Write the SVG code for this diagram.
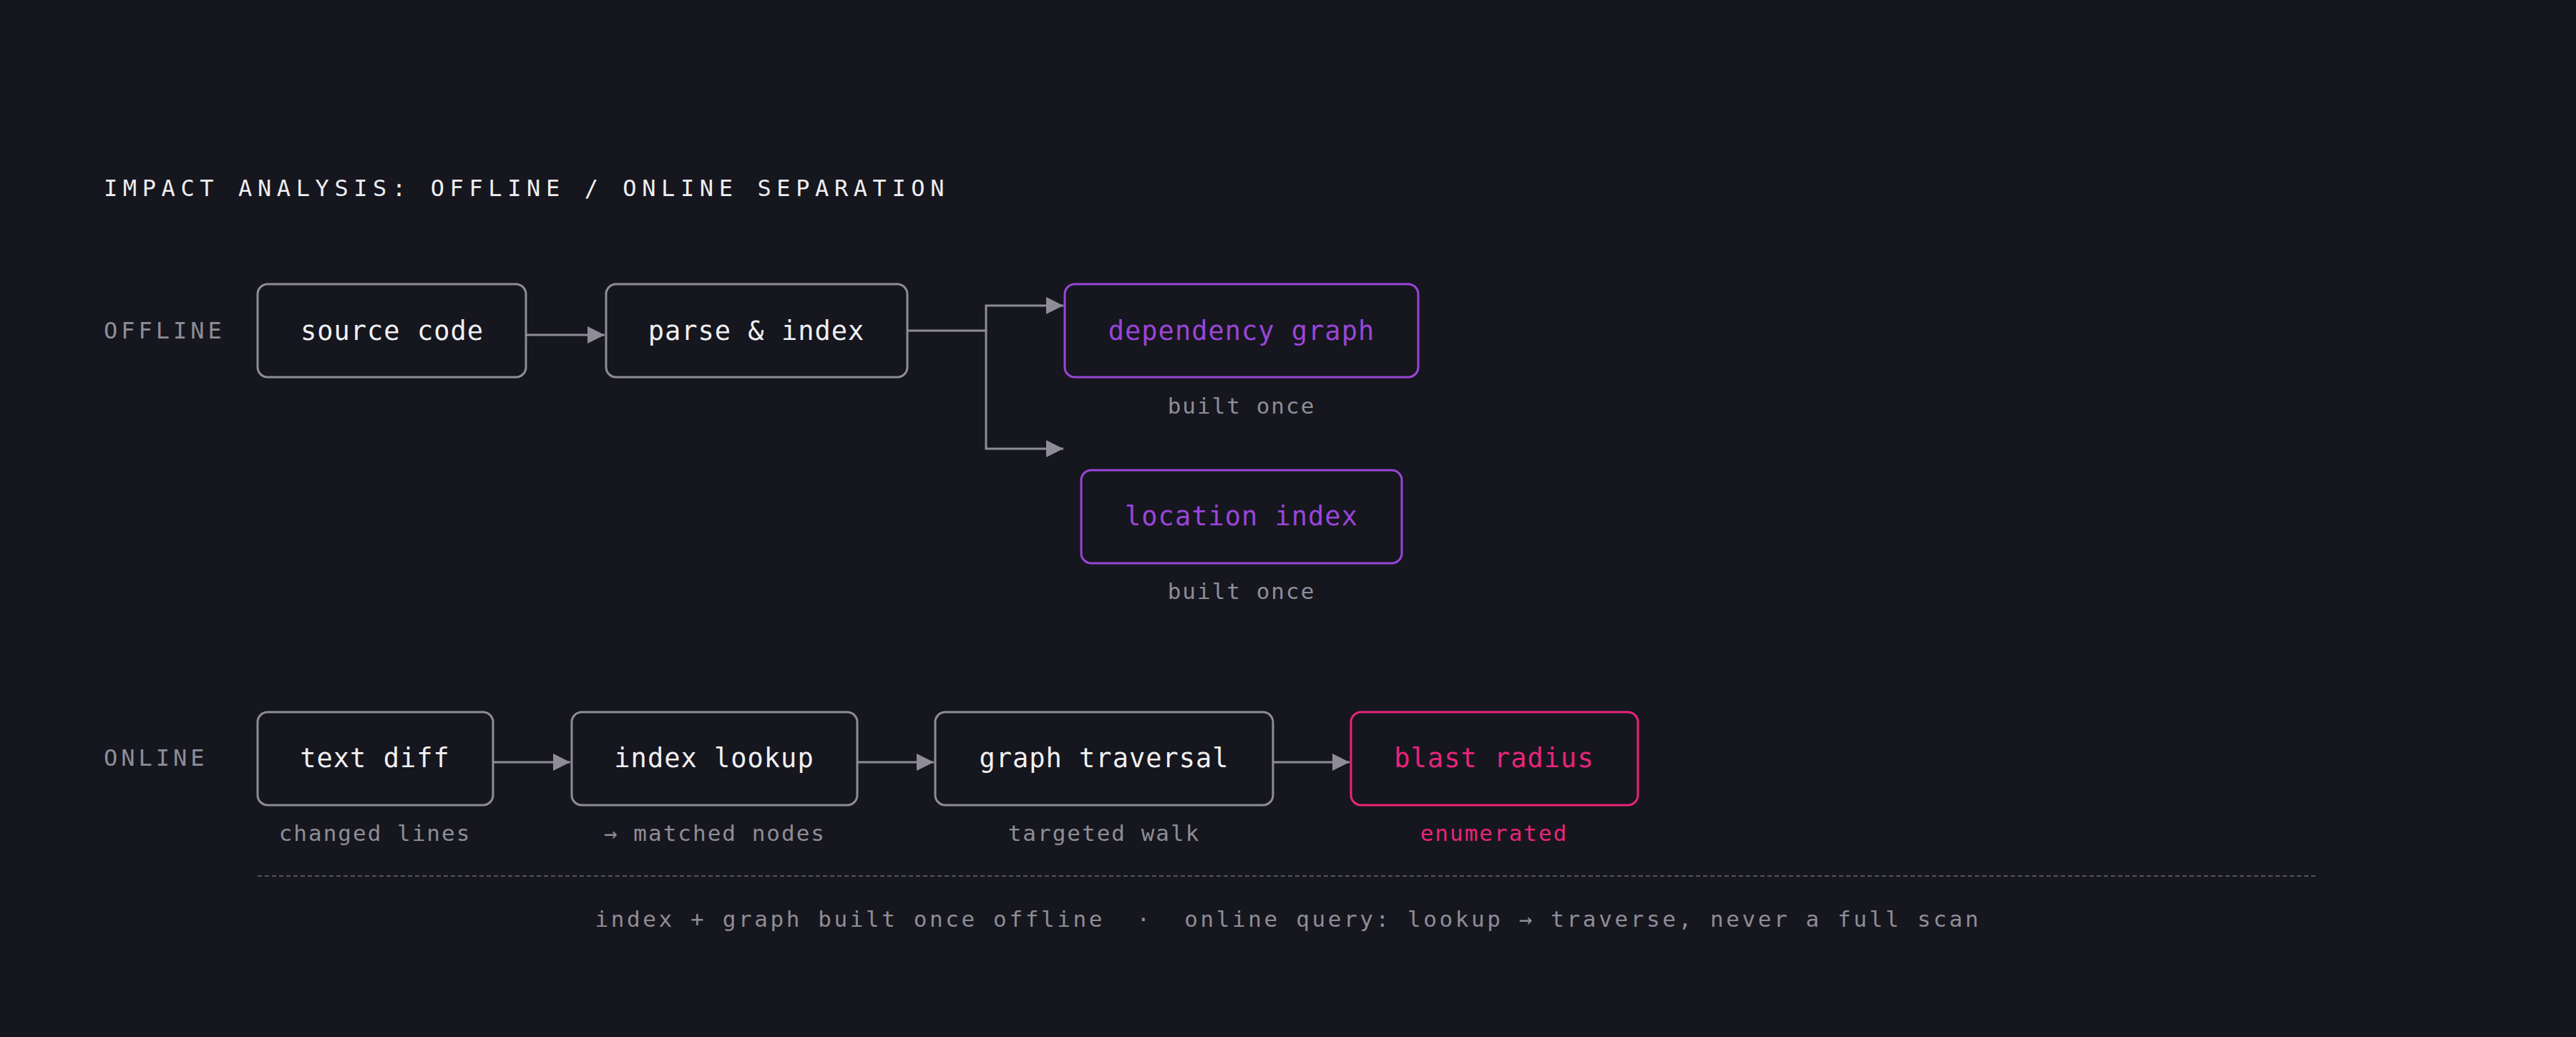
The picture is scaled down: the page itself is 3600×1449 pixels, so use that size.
<svg xmlns="http://www.w3.org/2000/svg" width="3600" height="1449" viewBox="0 0 3600 1449">
<style>
text{font-family:"DejaVu Sans Mono","Liberation Mono",monospace}
.box{fill:#16161e;stroke:#8e8d97;stroke-width:3}
.pur{fill:#16161e;stroke:#9a45d8;stroke-width:3}
.pink{fill:#16161e;stroke:#e8257b;stroke-width:3}
.nt{font-size:37px;fill:#f0f0f2;text-anchor:middle;letter-spacing:1px;dominant-baseline:central}
.ntp{font-size:37px;fill:#9a45d8;text-anchor:middle;letter-spacing:1px;dominant-baseline:central}
.ntk{font-size:37px;fill:#e8257b;text-anchor:middle;letter-spacing:1px;dominant-baseline:central}
.sub{font-size:31px;fill:#8e8d97;text-anchor:middle;letter-spacing:2px;dominant-baseline:central}
.lane{font-size:32px;fill:#8e8d97;letter-spacing:5px;dominant-baseline:central}
.con{stroke:#8e8d97;stroke-width:3;fill:none}
</style>
<defs>
<marker id="ah" markerUnits="userSpaceOnUse" markerWidth="26" markerHeight="24" refX="24" refY="12" orient="auto">
<path d="M0,0 L24,12 L0,24 Z" fill="#8e8d97"/>
</marker>
</defs>
<rect width="3600" height="1449" fill="#16161e"/>
<text x="145" y="263" style="font-size:32px;fill:#eeeef0;letter-spacing:7.6px;dominant-baseline:central">IMPACT ANALYSIS: OFFLINE / ONLINE SEPARATION</text>
<text class="lane" x="145" y="462">OFFLINE</text>
<text class="lane" x="145" y="1059">ONLINE</text>
<g id="connectors">
<path class="con" d="M735,468 H845" marker-end="url(#ah)"/>
<path class="con" d="M1268,462 H1378 V427 H1486" marker-end="url(#ah)"/>
<path class="con" d="M1378,462 V627 H1486" marker-end="url(#ah)"/>
<path class="con" d="M689,1065 H797" marker-end="url(#ah)"/>
<path class="con" d="M1198,1065 H1305" marker-end="url(#ah)"/>
<path class="con" d="M1779,1065 H1886" marker-end="url(#ah)"/>
</g>
<g id="source-code"><rect class="box" x="360" y="397" width="375" height="130" rx="14"/><text class="nt" x="548" y="462">source code</text></g>
<g id="parse-index"><rect class="box" x="847" y="397" width="421" height="130" rx="14"/><text class="nt" x="1057" y="462">parse &amp; index</text></g>
<g id="dependency-graph"><rect class="pur" x="1488" y="397" width="494" height="130" rx="14"/><text class="ntp" x="1735" y="462">dependency graph</text><text class="sub" x="1735" y="567">built once</text></g>
<g id="location-index"><rect class="pur" x="1511" y="657" width="448" height="130" rx="14"/><text class="ntp" x="1735" y="721">location index</text><text class="sub" x="1735" y="826">built once</text></g>
<g id="text-diff"><rect class="box" x="360" y="995" width="329" height="130" rx="14"/><text class="nt" x="524" y="1059">text diff</text><text class="sub" x="524" y="1164">changed lines</text></g>
<g id="index-lookup"><rect class="box" x="799" y="995" width="399" height="130" rx="14"/><text class="nt" x="998" y="1059">index lookup</text><text class="sub" x="999" y="1164">→ matched nodes</text></g>
<g id="graph-traversal"><rect class="box" x="1307" y="995" width="472" height="130" rx="14"/><text class="nt" x="1543" y="1059">graph traversal</text><text class="sub" x="1543" y="1164">targeted walk</text></g>
<g id="blast-radius"><rect class="pink" x="1888" y="995" width="401" height="130" rx="14"/><text class="ntk" x="2088" y="1059">blast radius</text><text class="sub" x="2088" y="1164" style="fill:#e8257b">enumerated</text></g>
<line x1="360" y1="1224" x2="3240" y2="1224" stroke="#55545c" stroke-width="2" stroke-dasharray="6 4"/>
<text class="sub" x="1800" y="1284" style="letter-spacing:3.6px;white-space:pre">index + graph built once offline  ·  online query: lookup → traverse, never a full scan</text>
</svg>
